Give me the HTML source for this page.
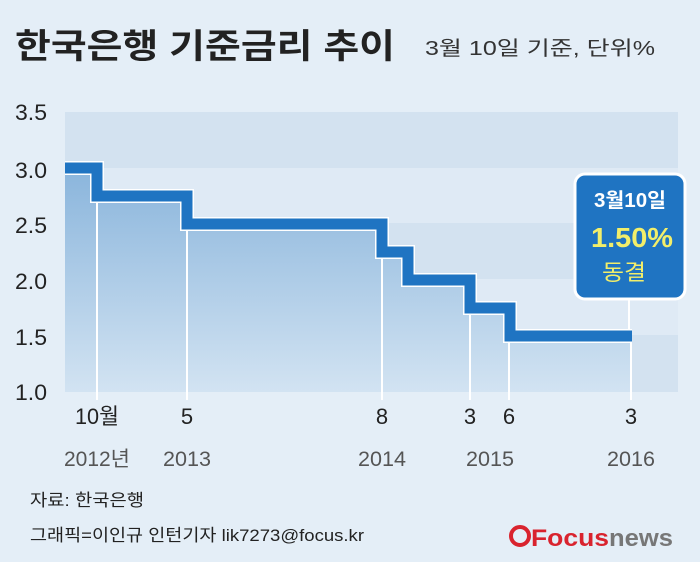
<!DOCTYPE html>
<html><head><meta charset="utf-8"><style>
html,body{margin:0;padding:0;background:#e4eef7;}
svg{display:block;font-family:"Liberation Sans","Noto Sans CJK KR",sans-serif;}
</style></head><body>
<svg width="700" height="562" viewBox="0 0 700 562" xmlns="http://www.w3.org/2000/svg">
<defs>
<linearGradient id="g" x1="0" y1="0" x2="0" y2="1">
<stop offset="0" stop-color="#8ab5dc"/><stop offset="1" stop-color="#d2e3f2"/>
</linearGradient>
</defs>
<rect width="700" height="562" fill="#e4eef7"/>
<text x="15" y="58" font-size="34" font-weight="bold" fill="#222" textLength="380" lengthAdjust="spacingAndGlyphs">한국은행 기준금리 추이</text>
<text x="425" y="55" font-size="20" fill="#333" textLength="230" lengthAdjust="spacingAndGlyphs">3월 10일 기준, 단위%</text>
<rect x="65" y="112" width="613" height="56" fill="#d3e2f0"/>
<rect x="65" y="168" width="613" height="55" fill="#dfeaf5"/>
<rect x="65" y="223" width="613" height="56" fill="#d3e2f0"/>
<rect x="65" y="279" width="613" height="56" fill="#dfeaf5"/>
<rect x="65" y="335" width="613" height="57" fill="#d3e2f0"/>
<g font-size="22" fill="#222">
<text x="15" y="120" textLength="32" lengthAdjust="spacingAndGlyphs">3.5</text>
<text x="15" y="178" textLength="32" lengthAdjust="spacingAndGlyphs">3.0</text>
<text x="15" y="233" textLength="32" lengthAdjust="spacingAndGlyphs">2.5</text>
<text x="15" y="289" textLength="32" lengthAdjust="spacingAndGlyphs">2.0</text>
<text x="15" y="345" textLength="32" lengthAdjust="spacingAndGlyphs">1.5</text>
<text x="15" y="400" textLength="32" lengthAdjust="spacingAndGlyphs">1.0</text>
</g>
<path d="M65,168 H97 V196 H187 V224 H382 V252 H408 V280 H470 V308 H510 V336 H632 V392 H65 Z" fill="url(#g)"/>
<g stroke="#fff" stroke-width="2">
<line x1="97" y1="196" x2="97" y2="400"/><line x1="187" y1="224" x2="187" y2="400"/>
<line x1="382" y1="252" x2="382" y2="400"/><line x1="470" y1="308" x2="470" y2="400"/>
<line x1="509" y1="336" x2="509" y2="400"/><line x1="631" y1="336" x2="631" y2="400"/>
<line x1="629" y1="298" x2="629" y2="330"/>
</g>
<path d="M65,168 H97 V196 H187 V224 H382 V252 H408 V280 H470 V308 H510 V336 H632" fill="none" stroke="#fff" stroke-width="14"/>
<path d="M65,168 H97 V196 H187 V224 H382 V252 H408 V280 H470 V308 H510 V336 H632" fill="none" stroke="#1f74c2" stroke-width="11"/>
<rect x="575" y="174" width="110" height="125" rx="10" fill="#1f74c2" stroke="#fff" stroke-width="3"/>
<text x="630" y="207" font-size="20" font-weight="bold" fill="#fff" text-anchor="middle" textLength="72" lengthAdjust="spacingAndGlyphs">3월10일</text>
<text x="632" y="247" font-size="28" font-weight="bold" fill="#f2ee6a" text-anchor="middle" textLength="82" lengthAdjust="spacingAndGlyphs">1.50%</text>
<text x="602" y="280" font-size="22" fill="#f2ee6a" textLength="44" lengthAdjust="spacingAndGlyphs">동결</text>
<g font-size="22" fill="#222" text-anchor="middle">
<text x="97" y="424" textLength="44" lengthAdjust="spacingAndGlyphs">10월</text><text x="187" y="424">5</text><text x="382" y="424">8</text>
<text x="470" y="424">3</text><text x="509" y="424">6</text><text x="631" y="424">3</text>
</g>
<g font-size="21" fill="#555" text-anchor="middle">
<text x="97" y="466" textLength="66" lengthAdjust="spacingAndGlyphs">2012년</text>
<text x="187" y="466" textLength="48" lengthAdjust="spacingAndGlyphs">2013</text>
<text x="382" y="466" textLength="48" lengthAdjust="spacingAndGlyphs">2014</text>
<text x="490" y="466" textLength="48" lengthAdjust="spacingAndGlyphs">2015</text>
<text x="631" y="466" textLength="48" lengthAdjust="spacingAndGlyphs">2016</text>
</g>
<text x="30" y="506" font-size="17" fill="#222" textLength="114" lengthAdjust="spacingAndGlyphs">자료: 한국은행</text>
<text x="30" y="541" font-size="17" fill="#222" textLength="334" lengthAdjust="spacingAndGlyphs">그래픽=이인규 인턴기자 lik7273@focus.kr</text>
<circle cx="520" cy="536" r="9" fill="none" stroke="#d9232e" stroke-width="4"/>
<text x="531" y="546" font-size="24" font-weight="bold" fill="#d9232e" textLength="78" lengthAdjust="spacingAndGlyphs">Focus</text>
<text x="609" y="546" font-size="24" font-weight="bold" fill="#777" textLength="64" lengthAdjust="spacingAndGlyphs">news</text>
</svg>
</body></html>
